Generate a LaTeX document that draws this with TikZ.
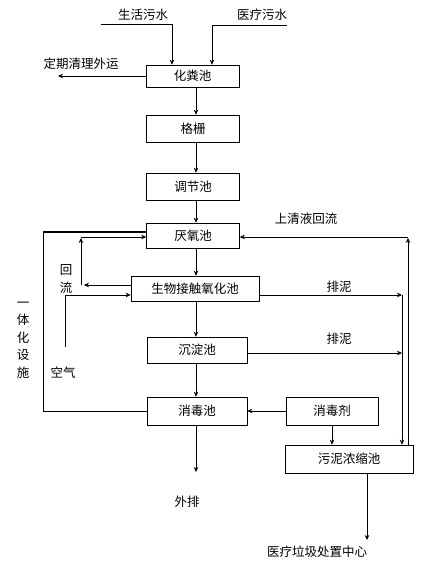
\documentclass[tikz,border=0pt]{standalone}
\usepackage{fontspec}
\newfontfamily\cjk{Noto Sans CJK SC}
\usetikzlibrary{arrows.meta}

\begin{document}
\begin{tikzpicture}[x=1pt,y=-1pt,>={Stealth[length=5pt,width=4.5pt]},line width=0.6pt,font=\cjk\fontsize{12.5}{17.5}\selectfont]
\tikzset{
% Two node styles for the flow chart: boxed basins and free text
box node/.style={draw,inner sep=0,minimum height=26,minimum width=93},
text node/.style={inner sep=0,align=center}
}
\useasboundingbox (0,0) rectangle (421,572);
% The main line of basins
\node(fen)[box node,minimum height=22] at (192.5,76){化粪池};
\node(grid)[box node,minimum height=27] at (193,128.5){格栅};
\node(adj)[box node,minimum height=27] at (193,186.5){调节池};
\node(anaer)[box node,minimum height=25] at (193,235.5){厌氧池};
\node(oxid)[box node,minimum height=25,minimum width=128] at (195,288.5){生物接触氧化池};
\node(settle)[box node,minimum width=100] at (197,350){沉淀池};
\node(disinf)[box node,minimum height=28,minimum width=100] at (197,411){消毒池};
\node(agent)[box node,minimum height=28,minimum width=92] at (332,411){消毒剂};
\node(sludge)[box node,minimum height=28,minimum width=128] at (349,459){污泥浓缩池};
% Texts
\node(home)[text node] at (143,15){生活污水};
\node(hosp)[text node] at (262,15){医疗污水};
\node(clean)[text node] at (81,64){定期清理外运};
\node(drain)[text node] at (187,502){外排};
\node(center)[text node] at (317,552){医疗垃圾处置中心};
\node(upper)[text node] at (306,219){上清液回流};
\node(mud1)[text node] at (339,287){排泥};
\node(mud2)[text node] at (339,339){排泥};
\node(back)[text node] at (66,279){回\\流};
\node(unit)[text node] at (23,340){一\\体\\化\\设\\施};
\node(air)[text node] at (63,373){空气};
\coordinate(m) at (196,0);
% Inflows
\draw[->] (101,24) -| ([xshift=-20.5]fen.north);
\draw[->] (287,25) -| ([xshift=19.5]fen.north);
\draw[->] (fen.west) -- (58,76);
% Main line
\draw[->] (fen.south -| m) -- (grid.north -| m);
\draw[->] (grid.south -| m) -- (adj.north -| m);
\draw[->] (adj.south -| m) -- (anaer.north -| m);
\draw[->] (anaer.south -| m) -- (oxid.north -| m);
\draw[->] (oxid.south -| m) -- (settle.north -| m);
\draw[->] (settle.south -| m) -- (disinf.north -| m);
\draw[->] (disinf.south -| m) -- (196,472);
% Sludge
\draw[->] ([yshift=-6.5]oxid.east) -- (402,295);
\draw[->] ([yshift=-3]settle.east) -- (402,353);
\draw[->] (402,295) -- (sludge.north -| 402,0);
\draw[->] (sludge.north -| 408,0) -- (408,238);
\draw[->] (408,237) -- ([yshift=-1.5]anaer.east);
\draw[->] (sludge.south -| 367,0) -- (367,540);
% Disinfection
\draw[->] (agent.west) -- (disinf.east);
\draw[->] (agent.south) -- (sludge.north -| agent.south);
% Left loops
\draw (disinf.west) -| (43,232);
\draw[line width=1.4pt] (43,232) -- ([yshift=3.5]anaer.west);
\draw[->] ([yshift=3.5]oxid.west) -- (84,285);
\draw[->] (81,285) -- (81,238);
\draw[->] (81,237) -- ([yshift=-1.5]anaer.west);
\draw[->] (65,347) |- ([yshift=-6.5]oxid.west);
\end{tikzpicture}
\end{document}
